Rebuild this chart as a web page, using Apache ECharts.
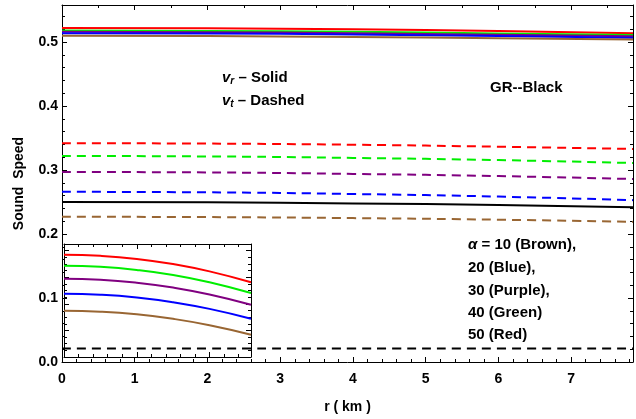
<!DOCTYPE html>
<html><head><meta charset="utf-8">
<script src="https://cdn.jsdelivr.net/npm/echarts@6/dist/echarts.min.js"></script>
<style>html,body{margin:0;padding:0;background:#fff}#c{width:636px;height:419px}</style>
</head><body><div id="c"></div>
<script>
// ---- data ----
const rMain = [0, 2, 4, 6, 7.85];
const vrRed    = [0.522, 0.5215, 0.5200, 0.5175, 0.514];
const vrGreen  = [0.518, 0.5175, 0.5160, 0.5135, 0.511];
const vrPurple = [0.516, 0.5155, 0.5140, 0.5115, 0.509];
const vrBlue   = [0.514, 0.5135, 0.5120, 0.5095, 0.507];
const vrBrown  = [0.510, 0.5095, 0.5080, 0.5060, 0.504];
const vtRed    = [0.342, 0.3414, 0.3396, 0.3365, 0.333];
const vtGreen  = [0.322, 0.3213, 0.3190, 0.3156, 0.311];
const vtPurple = [0.297, 0.2963, 0.2940, 0.2906, 0.286];
const vtBlue   = [0.266, 0.2652, 0.2626, 0.2585, 0.253];
const vtBrown  = [0.227, 0.2265, 0.2249, 0.2224, 0.219];
const grVr     = [0.250, 0.2495, 0.2479, 0.2454, 0.242];
const grVt     = [0.021, 0.021, 0.021, 0.021, 0.021];
// inset
const rInset = [0, 0.5, 1.0, 1.5, 2.0, 2.57];
const inRed    = [0.769, 0.761, 0.738, 0.699, 0.644, 0.562];
const inGreen  = [0.686, 0.678, 0.655, 0.617, 0.562, 0.481];
const inPurple = [0.588, 0.581, 0.559, 0.522, 0.470, 0.393];
const inBlue   = [0.476, 0.469, 0.448, 0.412, 0.362, 0.288];
const inBrown  = [0.348, 0.341, 0.321, 0.287, 0.239, 0.168];
const xTicks = [0,1,2,3,4,5,6,7];
const yTicks = [0.0,0.1,0.2,0.3,0.4,0.5];

const C = {red:'#ff0000', green:'#00ee00', purple:'#800080', blue:'#0000ff', brown:'#996633', black:'#000000'};
const FONT = 'Liberation Sans';

function pairs(xs, ys){ return xs.map((x,i)=>[x, ys[i]]); }
function line(name, xs, ys, color, dashed, xi, yi){
  return {name, type:'line', xAxisIndex:xi, yAxisIndex:yi, data:pairs(xs,ys), showSymbol:false, smooth:true,
    lineStyle:{color, width:2, type: dashed ? [9,6] : 'solid'}, animation:false, z: 3};
}

const chart = echarts.init(document.getElementById('c'), null, {renderer:'canvas'});
const axLine = {show:true, onZero:false, lineStyle:{color:'#000', width:1}};
const tickIn = (len)=>({show:true, inside:true, length:len, lineStyle:{color:'#000'}});
const labelStyle = {color:'#000', fontFamily:FONT, fontWeight:'bold', fontSize:14};
const ann = 'bold 15px "Liberation Sans"';
const richV = {
  v:{fontFamily:FONT, fontStyle:'italic', fontWeight:'bold', fontSize:15, fill:'#000'},
  s:{fontFamily:FONT, fontStyle:'italic', fontWeight:'bold', fontSize:10, fill:'#000', padding:[8,0,0,0]},
  n:{fontFamily:FONT, fontWeight:'bold', fontSize:15, fill:'#000'},
  a:{fontFamily:FONT, fontStyle:'italic', fontWeight:'bold', fontSize:15, fill:'#000'}
};

const option = {
  backgroundColor:'#fff',
  animation:false,
  grid:[
    {left:62, right:2, top:5, bottom:57, show:false},
    {left:64, top:244, width:187, height:113, show:false}
  ],
  xAxis:[
    {type:'value', gridIndex:0, position:'bottom', min:0, max:7.85, interval:1,
     axisLine:axLine, axisTick:tickIn(5), minorTick:{show:true, splitNumber:5, length:3, lineStyle:{color:'#000'}},
     splitLine:{show:false},
     axisLabel:Object.assign({margin:10, formatter:v => xTicks.includes(Math.round(v*1000)/1000) ? String(v) : ''}, labelStyle),
     name:'r ( km )', nameLocation:'middle', nameGap:38, nameTextStyle:Object.assign({}, labelStyle)},
    {type:'value', gridIndex:0, position:'top', min:0, max:7.85, interval:1,
     axisLine:axLine, axisTick:tickIn(5), minorTick:{show:true, splitNumber:2, length:3, lineStyle:{color:'#000'}},
     splitLine:{show:false}, axisLabel:{show:false}},
    {type:'value', gridIndex:1, position:'bottom', min:0, max:2.57, interval:1,
     axisLine:axLine, axisTick:tickIn(5), minorTick:{show:true, splitNumber:5, length:3, lineStyle:{color:'#000'}},
     splitLine:{show:false}, axisLabel:{show:false}},
    {type:'value', gridIndex:1, position:'top', min:0, max:2.57, interval:1,
     axisLine:axLine, axisTick:tickIn(5), minorTick:{show:true, splitNumber:5, length:3, lineStyle:{color:'#000'}},
     splitLine:{show:false}, axisLabel:{show:false}}
  ],
  yAxis:[
    {type:'value', gridIndex:0, position:'left', min:0, max:0.558, interval:0.1,
     axisLine:axLine, axisTick:tickIn(5), minorTick:{show:true, splitNumber:5, length:3, lineStyle:{color:'#000'}},
     splitLine:{show:false},
     axisLabel:Object.assign({margin:4, formatter:v => { const k = Math.round(v*10); return Math.abs(v*10-k)<1e-6 && k<=5 ? yTicks[k].toFixed(1) : ''; }}, labelStyle),
     name:'Sound  Speed', nameLocation:'middle', nameGap:36, nameRotate:90, nameTextStyle:Object.assign({}, labelStyle)},
    {type:'value', gridIndex:0, position:'right', min:0, max:0.558, interval:0.1,
     axisLine:axLine, axisTick:tickIn(5), minorTick:{show:true, splitNumber:5, length:3, lineStyle:{color:'#000'}},
     splitLine:{show:false}, axisLabel:{show:false}},
    {type:'value', gridIndex:1, position:'left', min:0, max:0.85, interval:0.2,
     axisLine:axLine, axisTick:tickIn(5), minorTick:{show:true, splitNumber:4, length:3, lineStyle:{color:'#000'}},
     splitLine:{show:false}, axisLabel:{show:false}},
    {type:'value', gridIndex:1, position:'right', min:0, max:0.85, interval:0.2,
     axisLine:axLine, axisTick:tickIn(5), minorTick:{show:true, splitNumber:4, length:3, lineStyle:{color:'#000'}},
     splitLine:{show:false}, axisLabel:{show:false}}
  ],
  series:[
    line('vr a=50', rMain, vrRed, C.red, false, 0, 0),
    line('vr a=40', rMain, vrGreen, C.green, false, 0, 0),
    line('vr a=30', rMain, vrPurple, C.purple, false, 0, 0),
    line('vr a=20', rMain, vrBlue, C.blue, false, 0, 0),
    line('vr a=10', rMain, vrBrown, C.brown, false, 0, 0),
    line('vt a=50', rMain, vtRed, C.red, true, 0, 0),
    line('vt a=40', rMain, vtGreen, C.green, true, 0, 0),
    line('vt a=30', rMain, vtPurple, C.purple, true, 0, 0),
    line('vt a=20', rMain, vtBlue, C.blue, true, 0, 0),
    line('vt a=10', rMain, vtBrown, C.brown, true, 0, 0),
    line('GR vr', rMain, grVr, C.black, false, 0, 0),
    line('GR vt', rMain, grVt, C.black, true, 0, 0),
    line('in a=50', rInset, inRed, C.red, false, 2, 2),
    line('in a=40', rInset, inGreen, C.green, false, 2, 2),
    line('in a=30', rInset, inPurple, C.purple, false, 2, 2),
    line('in a=20', rInset, inBlue, C.blue, false, 2, 2),
    line('in a=10', rInset, inBrown, C.brown, false, 2, 2)
  ],
  graphic:[
    {type:'text', left:222, top:70, style:{text:'{v|v}{s|r}{n| – Solid}', rich:richV}},
    {type:'text', left:222, top:93, style:{text:'{v|v}{s|t}{n| – Dashed}', rich:richV}},
    {type:'text', left:490, top:80, style:{text:'GR--Black', font:ann, fill:'#000'}},
    {type:'text', left:468, top:237, style:{text:'{a|α}{n| = 10 (Brown),}', rich:richV}},
    {type:'text', left:468, top:260, style:{text:'20 (Blue),', font:ann, fill:'#000'}},
    {type:'text', left:468, top:283, style:{text:'30 (Purple),', font:ann, fill:'#000'}},
    {type:'text', left:468, top:305, style:{text:'40 (Green)', font:ann, fill:'#000'}},
    {type:'text', left:468, top:327, style:{text:'50 (Red)', font:ann, fill:'#000'}}
  ]
};
chart.setOption(option);
</script>
</body></html>
